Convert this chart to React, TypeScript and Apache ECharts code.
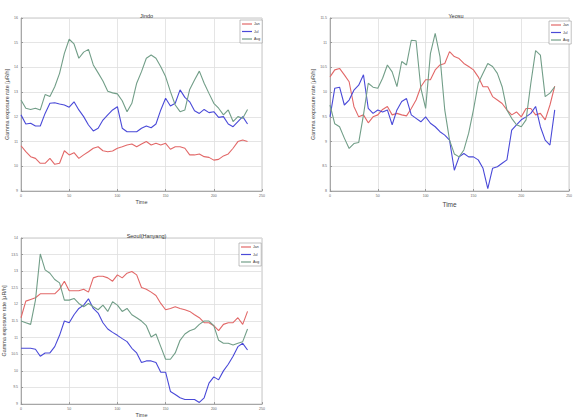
import React, { useEffect, useRef } from "react";
import * as echarts from "echarts";

const times = [0,5,10,15,20,25,30,35,40,45,50,55,60,65,70,75,80,85,90,95,100,105,110,115,120,125,130,135,140,145,150,155,160,165,170,175,180,185,190,195,200,205,210,215,220,225,230,235];
const seriesNames = ["Jan", "Jul", "Aug"];
const xTicks = [0, 50, 100, 150, 200, 250];

// Jindo
const jindoJan = [10.83,10.59,10.39,10.32,10.12,10.12,10.32,10.08,10.12,10.63,10.46,10.55,10.32,10.46,10.59,10.73,10.79,10.63,10.59,10.62,10.73,10.79,10.86,10.9,10.79,10.9,11.0,10.86,10.93,10.86,10.93,10.69,10.79,10.79,10.73,10.46,10.46,10.5,10.39,10.36,10.25,10.28,10.42,10.5,10.73,11.0,11.06,11.0];
const jindoJul = [12.08,11.71,11.74,11.63,11.63,12.14,12.55,12.57,12.52,12.48,12.39,12.61,12.28,12.01,11.67,11.43,11.54,11.87,12.08,12.28,12.41,11.54,11.4,11.4,11.4,11.54,11.63,11.56,11.71,12.28,12.75,12.44,12.55,13.09,12.79,12.61,12.25,12.14,12.3,12.17,12.21,11.98,12.01,11.71,11.6,11.81,12.01,11.71];
const jindoAug = [12.68,12.35,12.3,12.35,12.28,12.9,12.82,13.22,13.76,14.57,15.14,14.95,14.37,14.62,14.73,14.1,13.78,13.45,13.04,12.97,12.93,12.65,12.21,12.55,13.36,13.83,14.37,14.5,14.37,14.03,13.63,13.02,12.48,12.21,12.28,13.11,13.49,13.85,13.36,12.95,12.55,12.35,12.08,12.28,11.81,12.01,11.94,12.3];
const jindoTicks = [9, 10, 11, 12, 13, 14, 15, 16];

// Yeosu
const yeosuJan = [10.31,10.45,10.48,10.35,10.21,9.71,9.5,9.54,9.38,9.5,9.54,9.65,9.71,9.54,9.57,9.54,9.52,9.67,9.84,10.11,10.25,10.25,10.45,10.55,10.58,10.82,10.72,10.68,10.58,10.52,10.45,10.31,10.11,10.11,9.91,9.84,9.77,9.64,9.54,9.6,9.5,9.67,9.67,9.54,9.57,9.44,9.74,10.12];
const yeosuJul = [9.5,10.08,10.1,9.74,9.84,10.04,10.14,10.35,9.67,9.57,9.64,9.6,9.64,9.34,9.64,9.81,9.87,9.54,9.47,9.4,9.5,9.37,9.3,9.2,9.13,9.03,8.42,8.69,8.76,8.69,8.69,8.63,8.46,8.05,8.46,8.49,8.56,8.63,9.23,9.34,9.44,9.5,9.57,9.71,9.3,9.03,8.93,9.64];
const yeosuAug = [9.74,9.36,9.3,9.07,8.86,8.96,8.98,9.54,10.18,10.1,10.08,10.28,10.55,10.41,10.11,10.62,10.55,11.05,11.04,10.08,9.67,10.78,11.19,10.72,9.64,9.03,8.75,8.69,8.83,9.17,9.64,10.18,10.38,10.58,10.52,10.38,10.11,9.64,9.47,9.34,9.3,9.44,10.18,10.84,10.75,9.91,9.98,10.11];
const yeosuTicks = [8, 8.5, 9, 9.5, 10, 10.5, 11, 11.5];

// Seoul(Hanyang)
const seoulJan = [11.6,12.1,12.15,12.2,12.32,12.32,12.32,12.32,12.46,12.7,12.41,12.41,12.41,12.46,12.37,12.8,12.85,12.85,12.8,12.7,12.89,12.8,12.94,12.99,12.89,12.51,12.46,12.37,12.27,12.03,11.84,11.88,11.93,11.88,11.84,11.79,11.69,11.6,11.45,11.45,11.36,11.21,11.4,11.45,11.45,11.6,11.4,11.79];
const seoulJul = [10.68,10.68,10.68,10.65,10.44,10.54,10.54,10.73,11.07,11.5,11.45,11.69,11.88,11.98,12.17,11.88,11.74,11.45,11.26,11.16,11.07,10.97,10.88,10.68,10.54,10.25,10.3,10.3,10.25,9.96,9.96,9.38,9.29,9.19,9.14,9.14,9.14,9.05,9.19,9.63,9.82,9.73,10.0,10.2,10.44,10.73,10.83,10.63];
const seoulAug = [11.5,11.45,11.4,12.13,13.52,13.04,12.94,12.75,12.65,12.13,12.13,12.18,12.03,11.93,12.03,11.93,11.84,11.98,11.79,12.08,11.98,11.79,11.88,11.69,11.6,11.5,11.36,11.02,11.11,10.73,10.35,10.35,10.54,10.92,11.11,11.21,11.26,11.4,11.5,11.5,11.36,10.92,10.83,10.83,10.78,10.83,10.88,11.26];
const seoulTicks = [9, 9.5, 10, 10.5, 11, 11.5, 12, 12.5, 13, 13.5, 14];

const colors = ["#e26868", "#4a4ad8", "#729e88"];

const panels = [
  { title: "Jindo", data: [jindoJan, jindoJul, jindoAug], ticks: jindoTicks,
    grid: { left: 21, top: 18, width: 241, height: 173 }, legend: { left: 240, top: 20 } },
  { title: "Yeosu", data: [yeosuJan, yeosuJul, yeosuAug], ticks: yeosuTicks,
    grid: { left: 330, top: 18, width: 242, height: 173 }, legend: { left: 549, top: 21 } },
  { title: "Seoul(Hanyang)", data: [seoulJan, seoulJul, seoulAug], ticks: seoulTicks,
    grid: { left: 21, top: 238, width: 241, height: 174 }, legend: { left: 239, top: 243 } },
];

export default function App() {
  const ref = useRef<HTMLDivElement>(null);
  useEffect(() => {
    if (!ref.current) return;
    const chart = echarts.init(ref.current, undefined, { renderer: "svg" });
    const font = "Liberation Sans";
    const grids: any[] = [];
    const xAxes: any[] = [];
    const yAxes: any[] = [];
    const series: any[] = [];
    const legends: any[] = [];
    const titles: any[] = [];
    panels.forEach((p, i) => {
      grids.push({ ...p.grid, show: true, borderColor: "#b8b8b8", borderWidth: 0.8, backgroundColor: "#fff" });
      const tmin = p.ticks[0];
      const tmax = p.ticks[p.ticks.length - 1];
      const step = p.ticks[1] - p.ticks[0];
      xAxes.push({
        type: "value", gridIndex: i, min: xTicks[0], max: xTicks[xTicks.length - 1], interval: 50,
        name: "Time", nameLocation: "middle", nameGap: i === 1 ? 10 : 7,
        nameTextStyle: { fontSize: i === 1 ? 6.5 : 5.5, color: "#444", fontFamily: font },
        axisLine: { show: true, lineStyle: { color: "#999", width: 0.8 } },
        axisTick: { show: true, inside: true, length: 2, lineStyle: { color: "#999" } },
        axisLabel: { fontSize: 3.5, color: "#666", margin: 3, fontFamily: font },
        splitLine: { show: true, lineStyle: { color: "#dedede", width: 0.8 } },
      });
      yAxes.push({
        type: "value", gridIndex: i, min: tmin, max: tmax, interval: step,
        name: "Gamma exposure rate [μR/h]", nameLocation: "middle", nameGap: 8,
        nameTextStyle: { fontSize: 5.5, color: "#444", fontFamily: font },
        axisLine: { show: true, lineStyle: { color: "#999", width: 0.8 } },
        axisTick: { show: true, inside: true, length: 2, lineStyle: { color: "#999" } },
        axisLabel: { fontSize: 3.5, color: "#666", margin: 3, fontFamily: font },
        splitLine: { show: true, lineStyle: { color: "#dedede", width: 0.8 } },
      });
      p.data.forEach((vals, k) => {
        series.push({
          type: "line", name: seriesNames[k], xAxisIndex: i, yAxisIndex: i,
          data: times.map((t, j) => [t, vals[j]]),
          showSymbol: false, symbol: "none",
          lineStyle: { color: colors[k], width: 1.1 }, itemStyle: { color: colors[k] },
        });
      });
      legends.push({
        data: seriesNames, left: p.legend.left, top: p.legend.top, orient: "vertical",
        itemWidth: 10, itemHeight: 1.2, itemGap: 3.5, icon: "rect", padding: [2, 2, 2, 2],
        borderColor: "#999", borderWidth: 0.6, backgroundColor: "#fff",
        textStyle: { fontSize: 3.5, color: "#333", fontFamily: font, padding: [0, 0, 0, -3] },
        selectedMode: false,
      });
      titles.push({
        text: p.title, left: p.grid.left + p.grid.width / 2, top: p.grid.top - 10, textAlign: "center",
        textStyle: { fontSize: 5.5, fontWeight: "normal", color: "#333", fontFamily: font },
      });
    });
    chart.setOption({
      animation: false,
      backgroundColor: "#fff",
      title: titles,
      legend: legends,
      grid: grids,
      xAxis: xAxes,
      yAxis: yAxes,
      series,
    });
    return () => chart.dispose();
  }, []);
  return <div ref={ref} style={{ position: "fixed", left: 0, top: 0, width: 575, height: 419 }} />;
}
